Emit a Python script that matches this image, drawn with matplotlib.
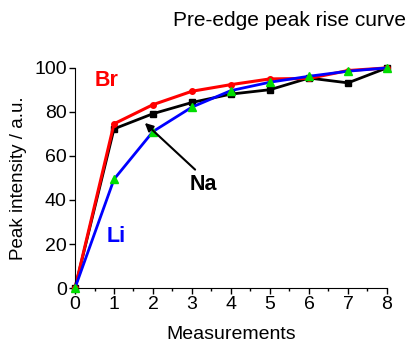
import matplotlib.pyplot as plt

plt.rcParams['font.family'] = ['Liberation Sans', 'DejaVu Sans']

measurements = [0, 1, 2, 3, 4, 5, 6, 7, 8]
br = [0, 74.6, 83.3, 89.4, 92.4, 95.0, 95.2, 98.8, 100]
na = [0, 72.3, 79.2, 84.3, 88.1, 90.1, 95.4, 93.2, 100]
li = [0, 49.4, 71.1, 82.2, 89.7, 93.5, 96.2, 98.5, 100]

fig = plt.figure(figsize=(4.11, 3.5), dpi=100)
ax = fig.add_axes([0.1825, 0.177, 0.759, 0.629])

ax.plot(measurements, li, '-', color='#0000ff', lw=2.0, marker='^', ms=6,
        mfc='#00dd00', mec='#00dd00', clip_on=False, zorder=3)
ax.plot(measurements, na, '-', color='black', lw=2.0, marker='s', ms=4,
        clip_on=False, zorder=2)
ax.plot(measurements, br, '-', color='#ff0000', lw=2.2, marker='o', ms=4,
        clip_on=False, zorder=2)

# series labels
ax.text(0.80, 94.5, 'Br', color='#ff0000', fontsize=15.5, fontweight='bold',
        ha='center', va='center')
ax.text(1.05, 23.5, 'Li', color='#0000ff', fontsize=15.5, fontweight='bold',
        ha='center', va='center')
ax.text(3.30, 47, 'Na', color='black', fontsize=15.5, fontweight='bold',
        ha='center', va='center')
ax.annotate('', xy=(1.79, 75.0), xytext=(3.08, 53.8),
            arrowprops=dict(arrowstyle='-|>', color='black', lw=1.5,
                            mutation_scale=12, shrinkA=0, shrinkB=0))

ax.set_xlim(0, 8)
ax.set_ylim(0, 100)
ax.set_xticks(range(0, 9))
ax.set_xticks([i + 0.5 for i in range(8)], minor=True)
ax.set_yticks(range(0, 101, 20))
ax.spines['top'].set_visible(False)
ax.spines['right'].set_visible(False)
ax.tick_params(which='major', labelsize=14, length=4, width=1)
ax.tick_params(which='minor', length=2.5, width=1)
ax.tick_params(axis='x', pad=2)
ax.tick_params(axis='y', pad=2)

ax.set_xlabel('Measurements', fontsize=14, labelpad=9)
ax.set_ylabel('Peak intensity / a.u.', fontsize=13.5, labelpad=5)
fig.text(0.705, 0.94, 'Pre-edge peak rise curve', fontsize=15,
         ha='center', va='center')

fig.savefig('out.png', dpi=100)
